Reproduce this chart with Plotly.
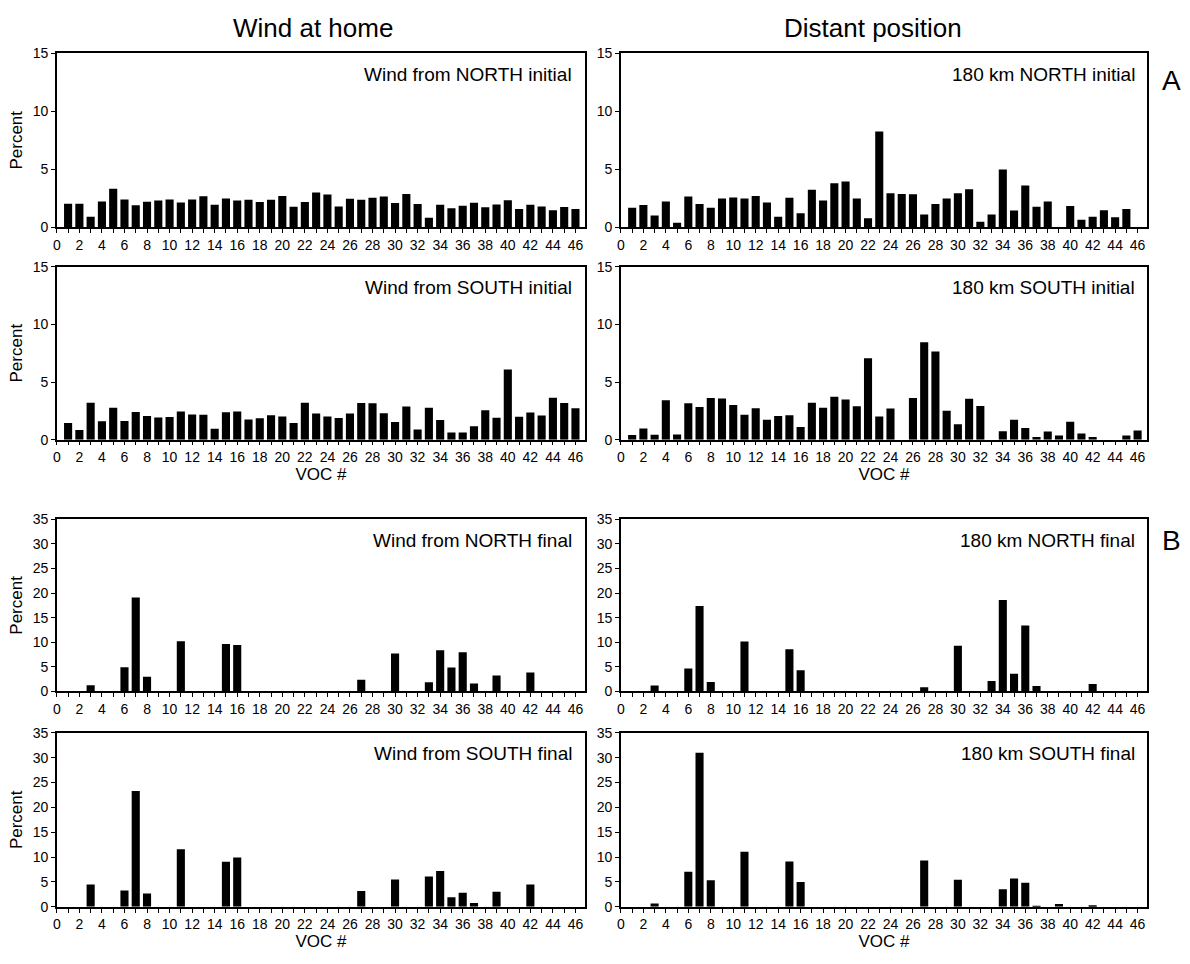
import plotly.graph_objects as go

voc = list(range(1, 47))

north_home_initial = [2.03, 2.03, 0.9, 2.23, 3.33, 2.4, 1.89, 2.2, 2.31, 2.4, 2.14, 2.4, 2.68, 1.95,
                      2.48, 2.31, 2.37, 2.17, 2.37, 2.7, 1.78, 2.17, 2.99, 2.82, 1.8, 2.45, 2.37, 2.54,
                      2.65, 2.09, 2.88, 2.0, 0.82, 1.95, 1.64, 1.86, 2.11, 1.72, 1.97, 2.34, 1.58, 1.95,
                      1.8, 1.47, 1.75, 1.58]
north_far_initial = [1.69, 1.92, 1.01, 2.23, 0.39, 2.65, 2.0, 1.69, 2.48, 2.56, 2.48, 2.7, 2.14, 0.9,
                     2.54, 1.21, 3.24, 2.31, 3.8, 3.94, 2.48, 0.79, 8.25, 2.93, 2.87, 2.85, 1.1, 2.0,
                     2.48, 2.93, 3.27, 0.48, 1.1, 4.99, 1.44, 3.61, 1.77, 2.23, 0.0, 1.83, 0.65, 0.9,
                     1.46, 0.87, 1.58, 0.0]
south_home_initial = [1.45, 0.85, 3.21, 1.59, 2.78, 1.62, 2.41, 2.05, 1.93, 1.96, 2.44, 2.19, 2.16, 0.94,
                      2.39, 2.44, 1.76, 1.85, 2.13, 2.02, 1.45, 3.21, 2.27, 2.02, 1.88, 2.27, 3.18, 3.15,
                      2.3, 1.53, 2.87, 0.88, 2.78, 1.7, 0.63, 0.63, 1.16, 2.56, 1.9, 6.08, 1.99, 2.36,
                      2.1, 3.64, 3.18, 2.73]
south_far_initial = [0.4, 0.97, 0.43, 3.41, 0.45, 3.15, 2.84, 3.61, 3.58, 3.01, 2.16, 2.73, 1.73, 2.05,
                     2.13, 1.11, 3.21, 2.76, 3.72, 3.49, 2.9, 7.05, 2.02, 2.7, 0.0, 3.61, 8.44, 7.64,
                     2.5, 1.34, 3.55, 2.93, 0.0, 0.74, 1.73, 1.02, 0.23, 0.71, 0.37, 1.56, 0.54, 0.23,
                     0.0, 0.0, 0.37, 0.8]

final_voc = [3, 6, 7, 8, 11, 15, 16, 27, 30, 33, 34, 35, 36, 37, 39, 42]
north_home_final = [1.26, 4.92, 19.1, 3.0, 10.2, 9.65, 9.45, 2.4, 7.7, 1.86, 8.4, 4.86, 8.0, 1.6, 3.26, 3.86]
north_far_final = [1.2, 4.65, 17.4, 1.93, 10.16, 8.57, 4.32, 0.86, 9.3, 2.12, 18.6, 3.59, 13.4, 1.13, 0.0, 1.53]
south_home_final = [4.49, 3.3, 23.3, 2.7, 11.56, 9.05, 9.9, 3.17, 5.48, 6.08, 7.2, 1.92, 2.84, 0.79, 3.04, 4.49]
south_far_final = [0.66, 7.03, 31.0, 5.32, 11.1, 9.13, 4.99, 9.32, 5.45, 0.0, 3.55, 5.71, 4.86, 0.2, 0.59, 0.33]

panel_labels = ["Wind from NORTH initial", "180 km NORTH initial",
                "Wind from SOUTH initial", "180 km SOUTH initial",
                "Wind from NORTH final", "180 km NORTH final",
                "Wind from SOUTH final", "180 km SOUTH final"]
column_titles = ["Wind at home", "Distant position"]
x_tick_vals = list(range(0, 47))
x_tick_text = [str(v) if v % 2 == 0 else "" for v in x_tick_vals]

W, H = 1190, 964
xdoms = [(53 / W, 583 / W), (619 / W, 1147 / W)]
rows_px = [(46, 223), (263, 439), (520, 695), (737, 914)]
ydoms = [(1 - b / H, 1 - t / H) for t, b in rows_px]

series = [
    (voc, north_home_initial), (voc, north_far_initial),
    (voc, south_home_initial), (voc, south_far_initial),
    (final_voc, north_home_final), (final_voc, north_far_final),
    (final_voc, south_home_final), (final_voc, south_far_final),
]

TICKFONT = dict(family="Liberation Sans, Arial, sans-serif", size=14, color="black")
LABFONT = "Liberation Sans, Arial, sans-serif"

fig = go.Figure()
layout = dict(
    width=W, height=H, margin=dict(l=0, r=0, t=0, b=0),
    paper_bgcolor="white", plot_bgcolor="white", showlegend=False,
)
annotations = []
for i, (xs, ys) in enumerate(series):
    r, c = divmod(i, 2)
    n = i + 1
    xa = "x" if n == 1 else f"x{n}"
    ya = "y" if n == 1 else f"y{n}"
    fig.add_trace(go.Bar(x=xs, y=ys, xaxis=xa, yaxis=ya, width=0.72,
                         marker=dict(color="black", line=dict(width=0))))
    final = r >= 2
    ymax = 35 if final else 15
    layout["xaxis" if n == 1 else f"xaxis{n}"] = dict(
        domain=list(xdoms[c]), anchor=ya, range=[0, 46.85],
        tickmode="array", tickvals=x_tick_vals, ticktext=x_tick_text,
        ticks="outside", ticklen=4, tickwidth=1.2, tickcolor="black",
        showline=True, linecolor="black", linewidth=1.5, mirror=True,
        showgrid=False, zeroline=False, tickfont=TICKFONT,
        title=dict(text="VOC #" if r in (1, 3) else "", font=dict(family=LABFONT, size=17, color="black"), standoff=2),
    )
    layout["yaxis" if n == 1 else f"yaxis{n}"] = dict(
        domain=list(ydoms[r]), anchor=xa, range=[0, ymax],
        tickmode="linear", tick0=0, dtick=5,
        ticks="outside", ticklen=4, tickwidth=1.2, tickcolor="black",
        showline=True, linecolor="black", linewidth=1.5, mirror=True,
        showgrid=False, zeroline=False, tickfont=TICKFONT,
        title=dict(text="Percent" if c == 0 else "", font=dict(family=LABFONT, size=17, color="black"), standoff=6),
    )
    annotations.append(dict(
        text=panel_labels[i], xref=f"{xa} domain", yref=f"{ya} domain",
        x=0.98, y=0.95, xanchor="right", yanchor="top", showarrow=False,
        font=dict(family=LABFONT, size=19, color="black"),
    ))

annotations.append(dict(text=column_titles[0], xref="paper", yref="paper",
                        x=310 / W, y=1 - 20 / H, xanchor="center", yanchor="middle",
                        showarrow=False, font=dict(family=LABFONT, size=26, color="black")))
annotations.append(dict(text=column_titles[1], xref="paper", yref="paper",
                        x=872 / W, y=1 - 20 / H, xanchor="center", yanchor="middle",
                        showarrow=False, font=dict(family=LABFONT, size=26, color="black")))
annotations.append(dict(text="A", xref="paper", yref="paper", x=1171 / W, y=1 - 74 / H,
                        xanchor="center", yanchor="middle", showarrow=False,
                        font=dict(family=LABFONT, size=28, color="black")))
annotations.append(dict(text="B", xref="paper", yref="paper", x=1171 / W, y=1 - 541 / H,
                        xanchor="center", yanchor="middle", showarrow=False,
                        font=dict(family=LABFONT, size=28, color="black")))
layout["annotations"] = annotations
fig.update_layout(**layout)
fig.write_html("out.html")
